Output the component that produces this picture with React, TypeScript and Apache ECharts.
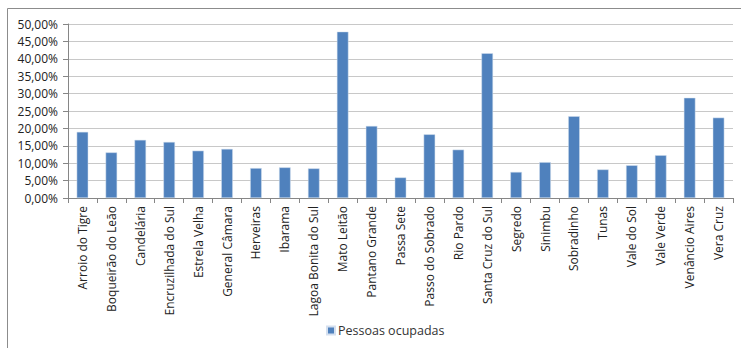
import React, { useEffect, useRef } from "react";
import * as echarts from "echarts";

const categories = [
  "Arroio do Tigre", "Boqueirão do Leão", "Candelária", "Encruzilhada do Sul", "Estrela Velha",
  "General Câmara", "Herveiras", "Ibarama", "Lagoa Bonita do Sul", "Mato Leitão",
  "Pantano Grande", "Passa Sete", "Passo do Sobrado", "Rio Pardo", "Santa Cruz do Sul",
  "Segredo", "Sinimbu", "Sobradinho", "Tunas", "Vale do Sol", "Vale Verde",
  "Venâncio Aires", "Vera Cruz",
];
const pessoasOcupadas = [
  19.0, 13.1, 16.7, 16.1, 13.6, 14.1, 8.6, 8.8, 8.5, 47.8,
  20.7, 5.9, 18.3, 13.9, 41.6, 7.5, 10.3, 23.5, 8.2, 9.4, 12.3, 28.8, 23.1,
];
const seriesName = "Pessoas ocupadas";

export default function App() {
  const ref = useRef<HTMLDivElement>(null);
  useEffect(() => {
    if (!ref.current) return;
    const chart = echarts.init(ref.current, undefined, { renderer: "svg" });
    const font = "'Open Sans', 'Liberation Sans', sans-serif";
    chart.setOption({
      animation: false,
      backgroundColor: "#ffffff",
      textStyle: { fontFamily: font },
      graphic: [
        {
          type: "rect",
          shape: { x: 7.5, y: 8.5, width: 800, height: 400 },
          style: { fill: "none", stroke: "#8c8c8c", lineWidth: 1 },
          silent: true,
        },
      ],
      grid: { left: 68, right: 8, top: 24, bottom: 150, containLabel: false },
      legend: {
        top: 324,
        left: 326,
        icon: "rect",
        itemWidth: 8,
        itemHeight: 8,
        itemGap: 5,
        padding: 0,
        textStyle: { fontSize: 12.5, color: "#333", fontFamily: font, padding: [0, 0, 0, -2] },
        data: [seriesName],
      },
      xAxis: {
        type: "category",
        data: categories,
        axisLine: { lineStyle: { color: "#868686" } },
        axisTick: { show: true, length: 5, alignWithLabel: false, lineStyle: { color: "#868686" } },
        axisLabel: { rotate: 90, interval: 0, fontSize: 12, color: "#222", margin: 8, fontFamily: font },
      },
      yAxis: {
        type: "value",
        min: 0,
        max: 50,
        interval: 5,
        axisLine: { show: true, lineStyle: { color: "#868686" } },
        axisTick: { show: true, length: 5, lineStyle: { color: "#868686" } },
        splitLine: { lineStyle: { color: "#c8c8c8" } },
        axisLabel: {
          fontSize: 12,
          color: "#222",
          margin: 10,
          fontFamily: font,
          formatter: (v: number) => v.toFixed(2).replace(".", ",") + "%",
        },
      },
      series: [
        {
          name: seriesName,
          type: "bar",
          data: pessoasOcupadas,
          barCategoryGap: "60%",
          itemStyle: { color: "#4F81BD", borderColor: "#d5e0ef", borderWidth: 0.5 },
        },
      ],
    });
    return () => chart.dispose();
  }, []);
  return (
    <div
      ref={ref}
      style={{ position: "fixed", left: 0, top: 0, width: 741, height: 348 }}
    />
  );
}
